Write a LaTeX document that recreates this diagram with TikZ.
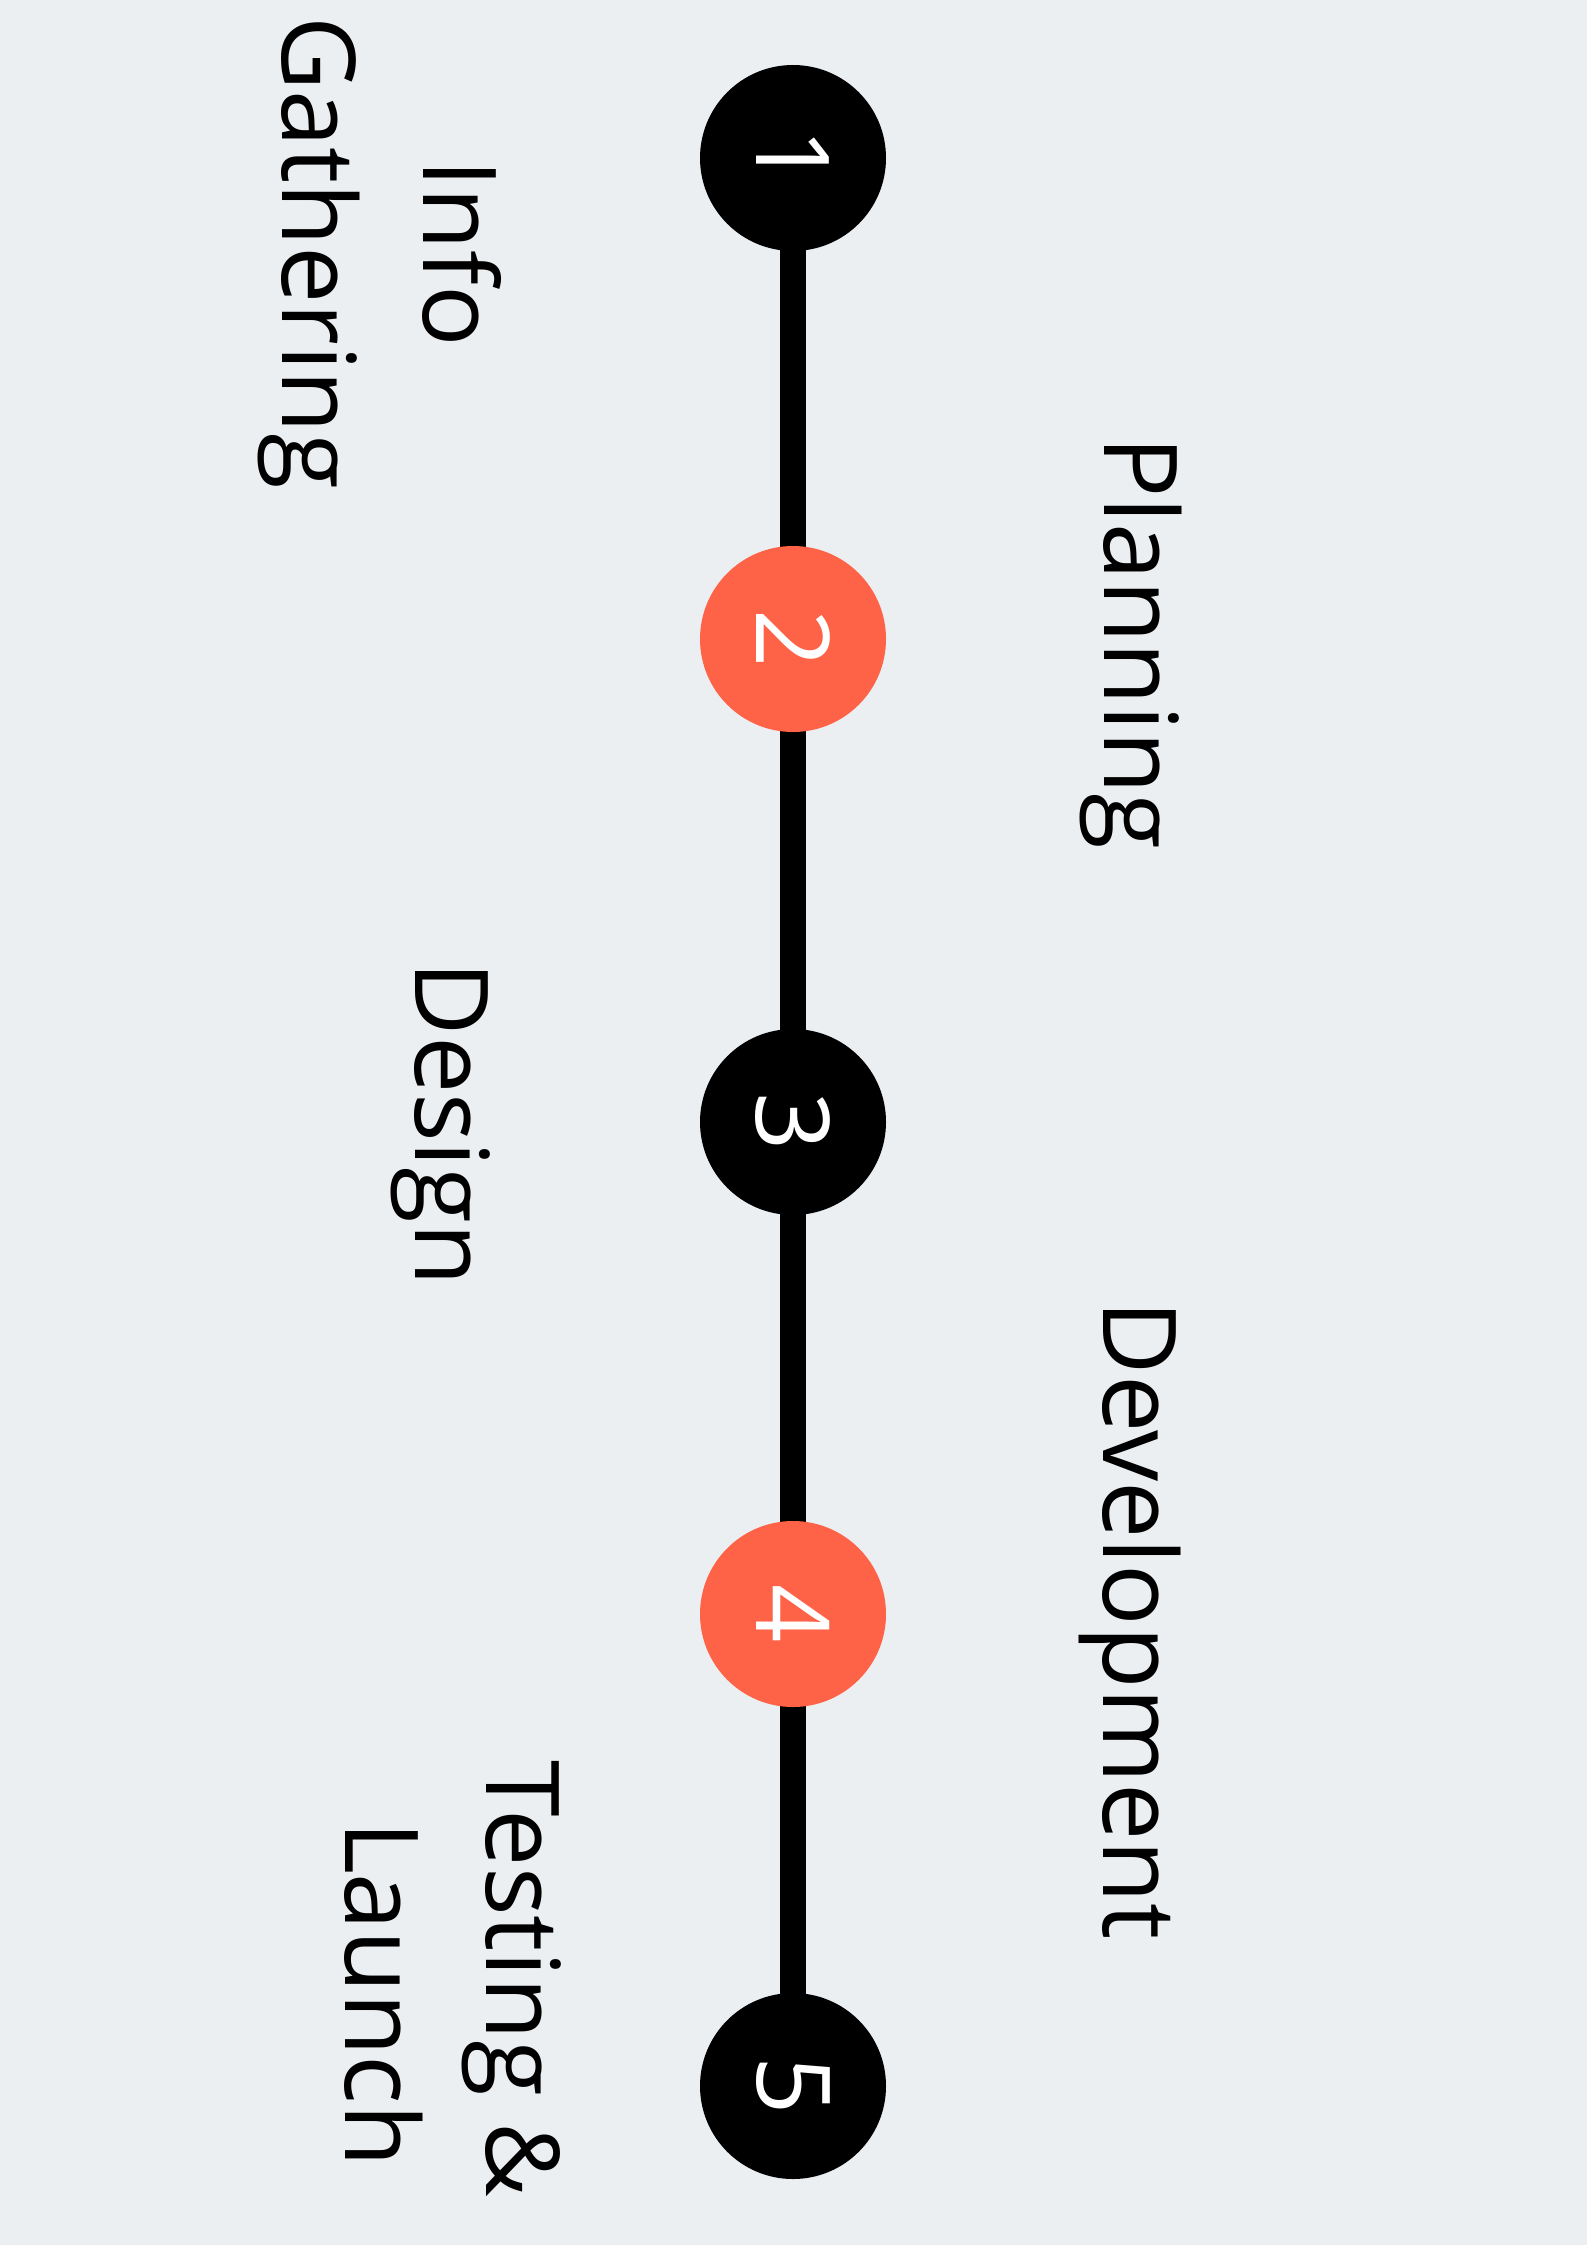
\documentclass[tikz,border=0pt]{standalone}
\usepackage{fontspec}
\setmainfont{Open Sans}
\usetikzlibrary{backgrounds}
\definecolor{bgc}{HTML}{EBEFF2}
\definecolor{tomatoc}{HTML}{FF6347}
\begin{document}
\begin{tikzpicture}[x=1pt,y=-1pt,
  stage/.style={circle, minimum size=186pt, inner sep=0pt, outer sep=0pt, text=white,
    font=\fontsize{102}{124}\selectfont, rotate=-90},
  darkstage/.style={stage, fill=black},
  hotstage/.style={stage, fill=tomatoc},
  lbl/.style={font=\fontsize{102}{141}\selectfont, rotate=-90, align=center,
    inner sep=0pt, anchor=base, text=black},
  track/.style={line width=25.7pt, draw=black}]
\useasboundingbox (0,0) rectangle (1587,2245);
\node[darkstage] (c1) at (793,158) {1};
\node[hotstage] (c2) at (793,639) {2};
\node[darkstage] (c3) at (793,1122) {3};
\node[hotstage] (c4) at (793,1614) {4};
\node[darkstage] (c5) at (793,2086) {5};
\node[lbl] (l1) at (282,253) {Info\\Gathering};
\node[lbl] (l2) at (1104,643) {Planning};
\node[lbl] (l3) at (415,1124) {Design};
\node[lbl] (l4) at (1103,1620) {Development};
\node[lbl] (l5) at (345,1994) {Testing \&\hspace*{0.3em}\\Launch};
\begin{scope}[on background layer]
\fill[bgc] (0,0) rectangle (1587,2245);
\draw[track] (c1.center) -- (c2.center);
\draw[track] (c2.center) -- (c3.center);
\draw[track] (c3.center) -- (c4.center);
\draw[track] (c4.center) -- (c5.center);
\end{scope}
\end{tikzpicture}
\end{document}
